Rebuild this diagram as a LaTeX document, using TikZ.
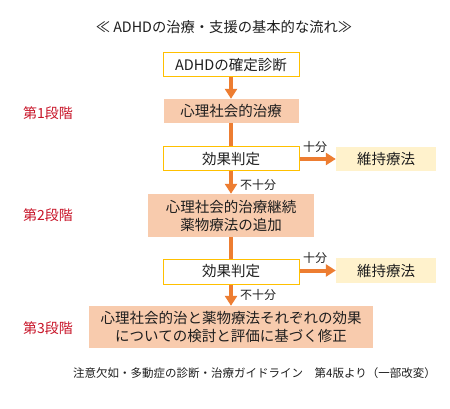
\documentclass[tikz,border=0pt]{standalone}
\usepackage{fontspec}
\setmainfont{Noto Sans CJK JP}
\usetikzlibrary{arrows.meta}
\definecolor{arr}{RGB}{237,125,49}
\definecolor{bord}{RGB}{255,192,0}
\definecolor{peach}{RGB}{248,203,173}
\definecolor{cream}{RGB}{255,242,204}
\definecolor{stagered}{RGB}{200,20,40}
\definecolor{txt}{RGB}{30,30,30}
\tikzset{
  judgebox/.style={draw=bord,line width=1pt,fill=white,minimum width=136pt,minimum height=24pt,inner sep=0pt,text=txt,font=\fontsize{14.5pt}{18pt}\selectfont},
  treatbox/.style={fill=peach,inner sep=0pt,text=txt,align=center,font=\fontsize{14.5pt}{18pt}\selectfont},
  keepbox/.style={fill=cream,minimum width=100pt,minimum height=24pt,inner sep=0pt,text=txt,font=\fontsize{14.5pt}{18pt}\selectfont},
  stagelabel/.style={anchor=west,inner sep=0pt,text=stagered,font=\fontsize{14pt}{17pt}\selectfont},
  flowarrow/.style={draw=arr,line width=4pt,-{Triangle[width=12pt,length=10pt]}},
  flowline/.style={draw=arr,line width=4pt},
  small/.style={inner sep=0pt,text=txt,font=\fontsize{12pt}{14pt}\selectfont}
}
\begin{document}
\begin{tikzpicture}[x=1pt,y=1pt]
\useasboundingbox[fill=white] (0,0) rectangle (450,-409);
\node[inner sep=0pt,text=txt,font=\fontsize{14.3pt}{17pt}\selectfont] (title) at (224,-27) {≪ ADHDの治療・支援の基本的な流れ≫};
\node[judgebox] (diag) at (231,-65) {ADHDの確定診断};
\node[treatbox,minimum width=135pt,minimum height=24pt] (t1) at (231,-111) {心理社会的治療};
\node[judgebox] (j1) at (231,-159) {効果判定};
\node[keepbox] (k1) at (386,-159) {維持療法};
\node[treatbox,minimum width=166pt,minimum height=43pt] (t2) at (231,-215.5) {心理社会的治療継続\\薬物療法の追加};
\node[judgebox,minimum height=25pt] (j2) at (231,-271.5) {効果判定};
\node[keepbox,minimum height=25pt] (k2) at (386,-270.5) {維持療法};
\node[treatbox,minimum width=284pt,minimum height=42pt] (t3) at (231,-327) {心理社会的治と薬物療法それぞれの効果\\についての検討と評価に基づく修正};
\node[stagelabel] (s1) at (23,-113) {第1段階};
\node[stagelabel] (s2) at (23,-215) {第2段階};
\node[stagelabel] (s3) at (23,-328) {第3段階};
\draw[flowarrow] (diag.south) -- (t1.north);
\draw[flowline] (t1.south) -- (j1.north);
\draw[flowarrow] (j1.south) -- (t2.north);
\draw[flowline] (t2.south) -- (j2.north);
\draw[flowarrow] (j2.south) -- (t3.north);
\draw[flowarrow] (j1.east) -- (k1.west);
\draw[flowarrow] (j2.east |- k2.west) -- (k2.west);
\node[small] (e1) at (315,-147) {十分};
\node[small] (e2) at (315,-258) {十分};
\node[small,anchor=west] (n1) at (240,-185) {不十分};
\node[small,anchor=west] (n2) at (240,-295) {不十分};
\node[inner sep=0pt,text=txt,font=\fontsize{11.5pt}{14pt}\selectfont] (foot) at (254.5,-373) {注意欠如・多動症の診断・治療ガイドライン　第4版より（一部改変）};
\end{tikzpicture}
\end{document}
